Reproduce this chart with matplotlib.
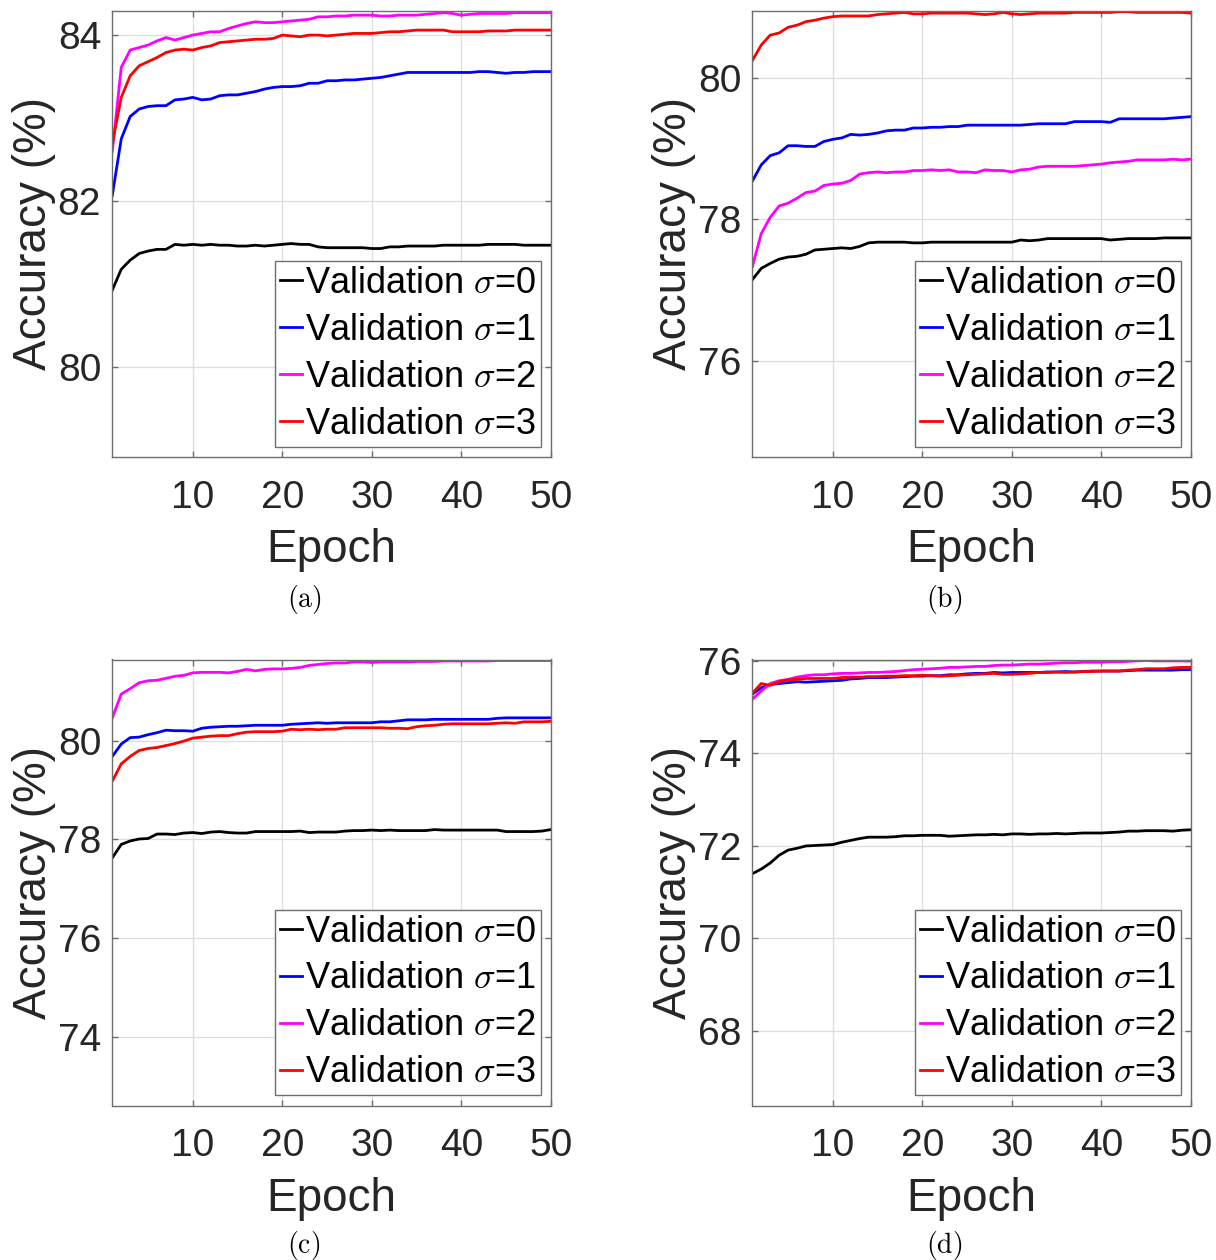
"""Validation accuracy vs epoch for four noise levels, four panels (a)-(d)."""

import matplotlib

matplotlib.use("Agg")
import matplotlib.pyplot as plt
import numpy as np

plt.rcParams["font.family"] = ["Liberation Sans", "DejaVu Sans"]
plt.rcParams["mathtext.fontset"] = "cm"

EPOCHS = np.arange(1, 51)
SIGMAS = [0, 1, 2, 3]
COLORS = ["#000000", "#0000ff", "#ff00ff", "#ff0000"]
PANEL_TAGS = ["(a)", "(b)", "(c)", "(d)"]
XTICKS = [10, 20, 30, 40, 50]

# panel (a)
A_S0 = [80.93, 81.18, 81.29, 81.37, 81.40, 81.42, 81.42, 81.48, 81.47, 81.48,
        81.47, 81.48, 81.47, 81.47, 81.46, 81.46, 81.47, 81.46, 81.47, 81.48,
        81.49, 81.48, 81.48, 81.45, 81.44, 81.44, 81.44, 81.44, 81.44, 81.43,
        81.43, 81.45, 81.45, 81.46, 81.46, 81.46, 81.46, 81.47, 81.47, 81.47,
        81.47, 81.47, 81.48, 81.48, 81.48, 81.48, 81.47, 81.47, 81.47, 81.47]
A_S1 = [82.07, 82.75, 83.02, 83.11, 83.14, 83.15, 83.15, 83.22, 83.23, 83.25,
        83.22, 83.23, 83.27, 83.28, 83.28, 83.30, 83.32, 83.35, 83.37, 83.38,
        83.38, 83.39, 83.42, 83.42, 83.45, 83.45, 83.46, 83.46, 83.47, 83.48,
        83.49, 83.51, 83.53, 83.55, 83.55, 83.55, 83.55, 83.55, 83.55, 83.55,
        83.55, 83.56, 83.56, 83.55, 83.54, 83.55, 83.55, 83.56, 83.56, 83.56]
A_S2 = [82.60, 83.61, 83.82, 83.85, 83.88, 83.93, 83.97, 83.94, 83.97, 84.00,
        84.02, 84.04, 84.04, 84.08, 84.11, 84.14, 84.16, 84.15, 84.15, 84.16,
        84.17, 84.18, 84.19, 84.22, 84.22, 84.23, 84.23, 84.24, 84.24, 84.24,
        84.23, 84.23, 84.24, 84.24, 84.24, 84.25, 84.26, 84.27, 84.26, 84.24,
        84.25, 84.26, 84.26, 84.26, 84.26, 84.27, 84.27, 84.27, 84.27, 84.27]
A_S3 = [82.69, 83.25, 83.51, 83.63, 83.68, 83.73, 83.79, 83.82, 83.83, 83.82,
        83.85, 83.87, 83.91, 83.92, 83.93, 83.94, 83.95, 83.95, 83.96, 84.00,
        83.99, 83.98, 84.00, 84.00, 83.99, 84.00, 84.01, 84.02, 84.02, 84.02,
        84.03, 84.04, 84.04, 84.05, 84.06, 84.06, 84.06, 84.06, 84.04, 84.04,
        84.04, 84.04, 84.05, 84.05, 84.05, 84.06, 84.06, 84.06, 84.06, 84.06]

# panel (b)
B_S0 = [77.15, 77.31, 77.38, 77.44, 77.47, 77.48, 77.51, 77.57, 77.58, 77.59,
        77.60, 77.59, 77.62, 77.67, 77.68, 77.68, 77.68, 77.68, 77.67, 77.67,
        77.68, 77.68, 77.68, 77.68, 77.68, 77.68, 77.68, 77.68, 77.68, 77.68,
        77.71, 77.70, 77.71, 77.73, 77.73, 77.73, 77.73, 77.73, 77.73, 77.73,
        77.71, 77.72, 77.73, 77.73, 77.73, 77.73, 77.74, 77.74, 77.74, 77.74]
B_S1 = [78.54, 78.77, 78.90, 78.94, 79.04, 79.04, 79.03, 79.03, 79.10, 79.13,
        79.15, 79.20, 79.19, 79.20, 79.22, 79.25, 79.26, 79.26, 79.29, 79.29,
        79.30, 79.30, 79.31, 79.31, 79.33, 79.33, 79.33, 79.33, 79.33, 79.33,
        79.33, 79.34, 79.35, 79.35, 79.35, 79.35, 79.38, 79.38, 79.38, 79.38,
        79.37, 79.42, 79.42, 79.42, 79.42, 79.42, 79.42, 79.43, 79.44, 79.45]
B_S2 = [77.33, 77.80, 78.03, 78.19, 78.23, 78.30, 78.38, 78.40, 78.48, 78.50,
        78.51, 78.55, 78.64, 78.66, 78.67, 78.66, 78.67, 78.67, 78.69, 78.69,
        78.70, 78.69, 78.70, 78.67, 78.67, 78.66, 78.70, 78.69, 78.69, 78.67,
        78.70, 78.71, 78.74, 78.75, 78.75, 78.75, 78.75, 78.76, 78.77, 78.78,
        78.80, 78.81, 78.82, 78.84, 78.84, 78.84, 78.84, 78.85, 78.84, 78.85]
B_S3 = [80.24, 80.46, 80.60, 80.63, 80.71, 80.74, 80.79, 80.81, 80.84, 80.86,
        80.87, 80.87, 80.87, 80.87, 80.89, 80.90, 80.91, 80.92, 80.90, 80.90,
        80.91, 80.91, 80.91, 80.91, 80.91, 80.90, 80.89, 80.90, 80.92, 80.90,
        80.89, 80.90, 80.91, 80.91, 80.91, 80.91, 80.92, 80.92, 80.92, 80.92,
        80.92, 80.93, 80.93, 80.92, 80.92, 80.92, 80.92, 80.92, 80.92, 80.91]

# panel (c)
C_S0 = [77.63, 77.90, 77.97, 78.01, 78.02, 78.11, 78.11, 78.10, 78.13, 78.14,
        78.12, 78.15, 78.16, 78.14, 78.13, 78.13, 78.16, 78.16, 78.16, 78.16,
        78.16, 78.17, 78.14, 78.15, 78.15, 78.15, 78.17, 78.18, 78.18, 78.19,
        78.18, 78.19, 78.18, 78.18, 78.18, 78.18, 78.20, 78.19, 78.19, 78.19,
        78.19, 78.19, 78.19, 78.19, 78.16, 78.16, 78.16, 78.16, 78.17, 78.20]
C_S1 = [79.68, 79.93, 80.06, 80.07, 80.12, 80.16, 80.21, 80.20, 80.20, 80.19,
        80.25, 80.27, 80.28, 80.29, 80.29, 80.30, 80.31, 80.31, 80.31, 80.31,
        80.33, 80.34, 80.35, 80.36, 80.35, 80.36, 80.36, 80.36, 80.36, 80.36,
        80.38, 80.38, 80.40, 80.42, 80.42, 80.42, 80.43, 80.43, 80.43, 80.43,
        80.43, 80.43, 80.43, 80.45, 80.46, 80.46, 80.46, 80.46, 80.46, 80.46]
C_S2 = [80.46, 80.94, 81.05, 81.17, 81.21, 81.22, 81.26, 81.30, 81.32, 81.37,
        81.38, 81.38, 81.38, 81.37, 81.40, 81.44, 81.41, 81.44, 81.45, 81.45,
        81.46, 81.48, 81.52, 81.54, 81.56, 81.57, 81.57, 81.59, 81.59, 81.58,
        81.59, 81.59, 81.59, 81.59, 81.60, 81.60, 81.60, 81.61, 81.61, 81.61,
        81.61, 81.61, 81.61, 81.62, 81.62, 81.62, 81.62, 81.62, 81.62, 81.62]
C_S3 = [79.18, 79.53, 79.68, 79.80, 79.84, 79.86, 79.90, 79.94, 79.99, 80.05,
        80.07, 80.09, 80.10, 80.10, 80.14, 80.17, 80.18, 80.18, 80.18, 80.19,
        80.23, 80.22, 80.23, 80.22, 80.23, 80.23, 80.26, 80.26, 80.26, 80.26,
        80.26, 80.25, 80.25, 80.24, 80.28, 80.30, 80.31, 80.33, 80.34, 80.34,
        80.34, 80.34, 80.34, 80.35, 80.36, 80.35, 80.38, 80.38, 80.38, 80.39]

# panel (d)
D_S0 = [71.40, 71.50, 71.63, 71.80, 71.91, 71.95, 72.00, 72.01, 72.02, 72.03,
        72.08, 72.12, 72.16, 72.19, 72.19, 72.19, 72.20, 72.22, 72.22, 72.23,
        72.23, 72.23, 72.21, 72.22, 72.23, 72.24, 72.24, 72.25, 72.24, 72.26,
        72.26, 72.25, 72.26, 72.26, 72.27, 72.26, 72.27, 72.28, 72.28, 72.28,
        72.29, 72.30, 72.32, 72.32, 72.33, 72.33, 72.33, 72.32, 72.34, 72.35]
D_S1 = [75.28, 75.42, 75.49, 75.51, 75.53, 75.55, 75.54, 75.55, 75.56, 75.57,
        75.58, 75.61, 75.62, 75.64, 75.64, 75.64, 75.65, 75.66, 75.67, 75.67,
        75.68, 75.68, 75.70, 75.70, 75.72, 75.73, 75.73, 75.75, 75.74, 75.75,
        75.75, 75.75, 75.75, 75.76, 75.76, 75.77, 75.76, 75.77, 75.78, 75.78,
        75.78, 75.78, 75.79, 75.80, 75.80, 75.80, 75.80, 75.80, 75.81, 75.81]
D_S2 = [75.17, 75.35, 75.51, 75.57, 75.60, 75.65, 75.68, 75.70, 75.70, 75.72,
        75.73, 75.73, 75.74, 75.75, 75.75, 75.76, 75.77, 75.79, 75.81, 75.82,
        75.83, 75.84, 75.86, 75.86, 75.87, 75.88, 75.88, 75.90, 75.91, 75.91,
        75.92, 75.93, 75.93, 75.94, 75.95, 75.96, 75.96, 75.97, 75.97, 75.97,
        75.98, 75.98, 75.99, 76.00, 76.01, 76.00, 76.00, 76.00, 76.00, 76.00]
D_S3 = [75.30, 75.51, 75.47, 75.55, 75.59, 75.60, 75.62, 75.62, 75.62, 75.62,
        75.64, 75.65, 75.65, 75.66, 75.66, 75.67, 75.67, 75.68, 75.68, 75.69,
        75.68, 75.67, 75.68, 75.69, 75.70, 75.71, 75.72, 75.73, 75.71, 75.71,
        75.72, 75.73, 75.75, 75.75, 75.76, 75.75, 75.76, 75.77, 75.77, 75.78,
        75.78, 75.78, 75.80, 75.81, 75.83, 75.83, 75.83, 75.85, 75.86, 75.86]

PANELS = [
    [A_S0, A_S1, A_S2, A_S3],
    [B_S0, B_S1, B_S2, B_S3],
    [C_S0, C_S1, C_S2, C_S3],
    [D_S0, D_S1, D_S2, D_S3],
]
YLIMS = [(78.92, 84.29), (74.65, 80.94), (72.62, 81.64), (66.39, 76.03)]
YTICKS = [[80, 82, 84], [76, 78, 80], [74, 76, 78, 80], [68, 70, 72, 74, 76]]

W, H = 1216, 1260
AX_W, AX_H = 438.5, 446
LEFTS = [112.3, 752.3, 112.3, 752.3]
BOTTOMS = [457, 457, 1105.5, 1105.5]
TAG_XY = [(304, 599), (944, 599), (304, 1245), (944, 1245)]

EDGE = "#6e6e6e"
TEXT = "#262626"

fig = plt.figure(figsize=(W / 100, H / 100), dpi=100)
fig.patch.set_facecolor("white")

for i, series in enumerate(PANELS):
    ax = fig.add_axes([LEFTS[i] / W, 1 - BOTTOMS[i] / H, AX_W / W, AX_H / H])
    for s, vals, col in zip(SIGMAS, series, COLORS):
        ax.plot(EPOCHS, vals, color=col, lw=2.0, label=f"Validation $\\sigma$={s}")
    ax.set_xlim(1, 50)
    ax.set_ylim(*YLIMS[i])
    ax.set_xticks(XTICKS)
    ax.set_yticks(YTICKS[i])
    ax.grid(True, color="#dedede", lw=0.9)
    ax.set_axisbelow(True)
    for sp in ax.spines.values():
        sp.set_color(EDGE)
        sp.set_linewidth(1.0)
    ax.tick_params(direction="in", length=4, width=1.0, color=EDGE, top=True, right=True,
                   labelsize=28, labelcolor=TEXT)
    ax.tick_params(axis="x", pad=16.5)
    ax.tick_params(axis="y", pad=8)
    ax.set_xlabel("Epoch", fontsize=33, color=TEXT, labelpad=9)
    ax.set_ylabel("Accuracy (%)", fontsize=33, color=TEXT, labelpad=1)
    leg = ax.legend(loc="lower right", fontsize=26, frameon=True, fancybox=False,
                    framealpha=1.0, edgecolor=EDGE, handlelength=0.6,
                    handletextpad=0.08, borderpad=0.14, labelspacing=0.33,
                    borderaxespad=0.28)
    leg.get_frame().set_linewidth(1.0)
    for t in leg.get_texts():
        t.set_color("black")
    tx, ty = TAG_XY[i]
    fig.text(tx / W, 1 - ty / H, "$\\mathrm{" + PANEL_TAGS[i] + "}$", fontsize=20,
             ha="center", va="center", color="black")

fig.savefig("out.png", dpi=100, facecolor="white")
